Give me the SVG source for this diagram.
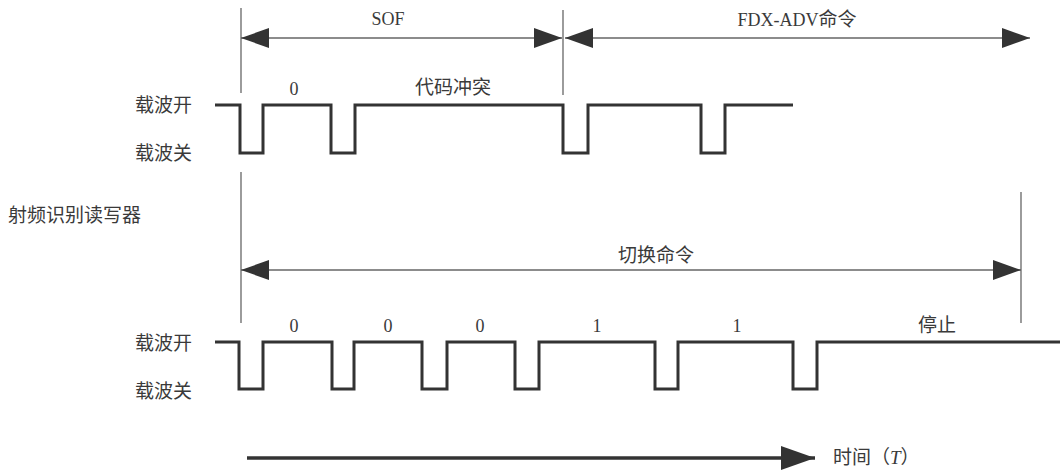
<svg xmlns="http://www.w3.org/2000/svg" width="1060" height="475" viewBox="0 0 1060 475">
  <style>
    .lbl { font-family: "Liberation Serif", "Noto Sans CJK SC", serif; font-size: 18px; fill: #3a3a3a; }
    .cjk { font-family: "Noto Sans CJK SC", "Liberation Sans", sans-serif; font-size: 19px; fill: #3a3a3a; }
    .wave { fill: none; stroke: #333; stroke-width: 3; stroke-linejoin: miter; }
    .guide { stroke: #666; stroke-width: 1.3; fill: none; }
    .dim { stroke: #666; stroke-width: 1.3; fill: none; marker-start: url(#ah); marker-end: url(#ah); }
    .time { stroke: #333; stroke-width: 3.5; fill: none; marker-end: url(#th); }
  </style>
  <defs>
    <marker id="ah" viewBox="0 0 28 20" refX="28" refY="10" markerWidth="28" markerHeight="20" markerUnits="userSpaceOnUse" orient="auto-start-reverse">
      <path d="M0,0 L28,10 L0,20 z" fill="#333"/>
    </marker>
    <marker id="th" viewBox="0 0 34 24" refX="34" refY="12" markerWidth="34" markerHeight="24" markerUnits="userSpaceOnUse" orient="auto">
      <path d="M0,0 L34,12 L0,24 z" fill="#333"/>
    </marker>
  </defs>
  <rect width="1060" height="475" fill="#fff"/>

  <g id="connectors">
    <line class="guide" x1="241" y1="8" x2="241" y2="93"/>
    <line class="guide" x1="563" y1="10" x2="563" y2="95"/>
    <line class="guide" x1="241" y1="172" x2="241" y2="323"/>
    <line class="guide" x1="1021" y1="192" x2="1021" y2="323"/>
    <line class="dim" x1="241" y1="38" x2="562" y2="38"/>
    <line class="dim" x1="565" y1="38" x2="1030" y2="38"/>
    <line class="dim" x1="241" y1="270" x2="1021" y2="270"/>
    <line class="time" x1="247" y1="458" x2="815" y2="458"/>
  </g>

  <g id="reader-label">
    <text class="cjk" x="8" y="222">射频识别读写器</text>
  </g>

  <g id="top-signal">
    <text class="cjk" x="135" y="112">载波开</text>
    <text class="cjk" x="135" y="160">载波关</text>
    <path class="wave" d="M215,105 H240 V153 H263 V105 H331 V153 H355 V105 H563 V153 H588 V105 H701 V153 H725 V105 H793"/>
    <text class="lbl" x="294" y="95" text-anchor="middle">0</text>
    <text class="cjk" x="453" y="94" text-anchor="middle">代码冲突</text>
    <text class="lbl" x="388" y="25" text-anchor="middle">SOF</text>
    <text class="lbl" x="797" y="26" text-anchor="middle">FDX-ADV<tspan class="cjk">命令</tspan></text>
  </g>

  <g id="bottom-signal">
    <text class="cjk" x="135" y="350">载波开</text>
    <text class="cjk" x="135" y="398">载波关</text>
    <path class="wave" d="M215,342 H239 V389 H263 V342 H332 V389 H354 V342 H422 V389 H447 V342 H515 V389 H539 V342 H655 V389 H678 V342 H793 V389 H817 V342 H1060"/>
    <text class="lbl" x="294" y="332" text-anchor="middle">0</text>
    <text class="lbl" x="388" y="332" text-anchor="middle">0</text>
    <text class="lbl" x="480" y="332" text-anchor="middle">0</text>
    <text class="lbl" x="597" y="332" text-anchor="middle">1</text>
    <text class="lbl" x="737" y="332" text-anchor="middle">1</text>
    <text class="cjk" x="937" y="332" text-anchor="middle">停止</text>
    <text class="cjk" x="656" y="262" text-anchor="middle">切换命令</text>
  </g>

  <g id="time-axis">
    <text class="cjk" x="833" y="464">时间（<tspan font-style="italic" font-family="Liberation Serif, serif">T</tspan>）</text>
  </g>
</svg>
